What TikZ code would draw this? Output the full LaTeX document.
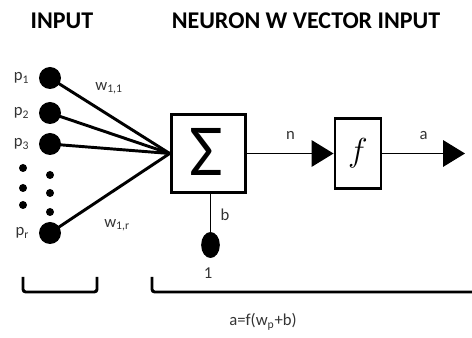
\documentclass[tikz,border=0pt]{standalone}
\usepackage{fontspec}
\setmainfont{Carlito}
\usepackage{tikz}
\usetikzlibrary{arrows.meta, positioning, shapes.geometric}

\begin{document}
\begin{tikzpicture}[
  x=0.75pt, y=-0.75pt,
  ttl/.style={font=\fontsize{18}{20}\selectfont\bfseries, inner sep=0pt},
  lbl/.style={font=\fontsize{12.5}{14}\selectfont, text=black!80, inner sep=0pt},
  inp/.style={circle, fill=black, minimum size=16.5pt, inner sep=0pt},
  sd/.style={circle, fill=black, minimum size=6pt, inner sep=0pt},
  bd/.style={ellipse, fill=black, minimum width=14pt, minimum height=19.5pt, inner sep=0pt},
  bx/.style={rectangle, draw, line width=2.2pt, inner sep=0pt},
  wire/.style={line width=2.2pt},
  sig/.style={line width=0.9pt, -{Triangle[length=16.5pt, width=20pt]}},
  brk/.style={line width=2.2pt, rounded corners=2pt}
]
  \useasboundingbox (0,0) rectangle (472,338);

  % Titles
  \node[ttl] (tin) at (62,21) {INPUT};
  \node[ttl] (tneu) at (306,21) {NEURON W VECTOR INPUT};

  % Inputs
  \foreach \i/\y in {1/78, 2/113, 3/144} {
    \node[inp] (p\i) at (50,\y) {};
    \node[lbl, left=7pt of p\i] {p\textsubscript{\i}};
  }
  \node[inp] (pr) at (50,233) {};
  \node[lbl, left=7pt of pr] {p\textsubscript{r}};

  % Dots between p3 and pr
  \foreach \y in {168, 188, 205} {
    \node[sd] (da\y) at (23,\y) {};
  }
  \foreach \y in {175, 193, 212} {
    \node[sd] (db\y) at (50,\y) {};
  }

  % Neuron
  \node[bx, minimum width=56pt, minimum height=58pt] (sum) at (208.5,153.5)
    {\fontsize{55}{55}\selectfont\hspace*{-4pt}\raisebox{2pt}{Σ}};
  \node[bx, minimum width=34.5pt, minimum height=52.5pt] (act) at (358,153.5)
    {\fontsize{30}{30}\selectfont$f$};
  \node[bd] (bias) at (210.5,245) {};
  \coordinate (out) at (465,153.5);

  % Weighted inputs
  \foreach \i in {1,2,3,r} {
    \draw[wire] (p\i.center) -- (sum.west);
  }
  \node[lbl] (w11) at (109,88) {w\textsubscript{1,1}};
  \node[lbl] (w1r) at (117,225) {w\textsubscript{1,r}};

  % Bias and signal path
  \draw[line width=0.9pt] (bias.center) -- (bias.center |- sum.south);
  \node[lbl] (lb) at (225,215) {b};
  \node[lbl] (l1) at (208,273) {1};
  \draw[sig] (sum.east) -- node[lbl, above=10pt] (ln) {n} (act.west);
  \draw[sig] (act.east) -- node[lbl, above=10pt] (la) {a} (out);

  % Brackets
  \draw[brk] (23,277) -- (23,292) -- (97,292) -- (97,277);
  \draw[brk] (152,277) -- (152,292) -- (472,292);
  \node[lbl] (eq) at (263,322) {a=f(w\textsubscript{p}+b)};
\end{tikzpicture}
\end{document}
